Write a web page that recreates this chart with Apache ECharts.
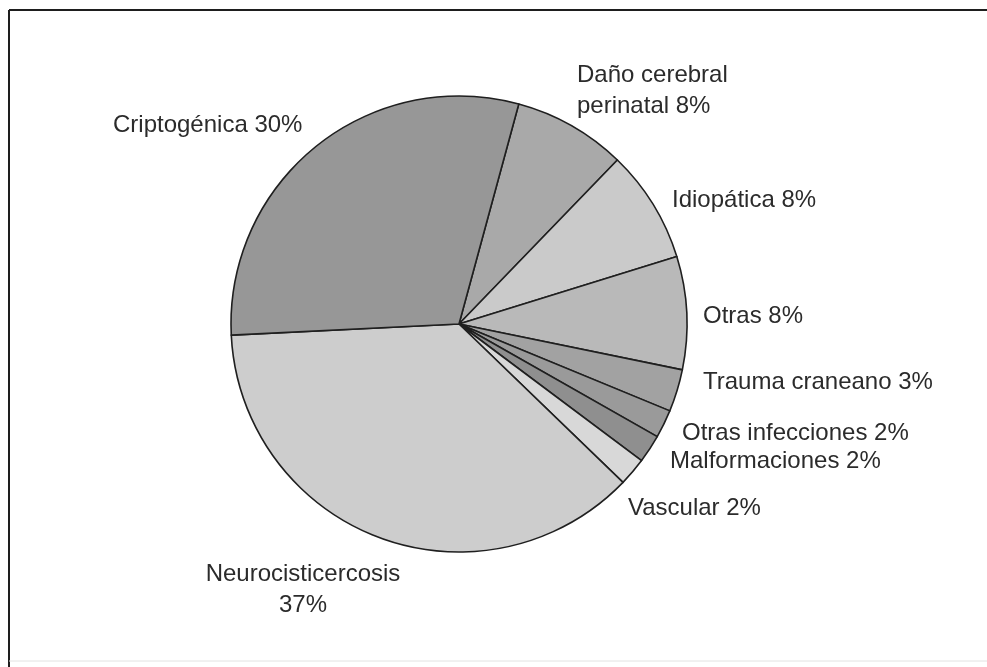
<!DOCTYPE html>
<html>
<head>
<meta charset="utf-8">
<script src="https://cdn.jsdelivr.net/npm/echarts@6/dist/echarts.min.js"></script>
<style>
html,body{margin:0;padding:0;background:#fff;}
#chart{width:987px;height:667px;}
</style>
</head>
<body>
<div id="chart"></div>
<script>
// Data (clockwise from the top boundary)
const categories = ['Daño cerebral perinatal','Idiopática','Otras','Trauma craneano','Otras infecciones','Malformaciones','Vascular','Neurocisticercosis','Criptogénica'];
const values = [8, 8, 8, 3, 2, 2, 2, 37, 30];
const labelTexts = ['Daño cerebral\nperinatal 8%','Idiopática 8%','Otras 8%','Trauma craneano 3%','Otras infecciones 2%','Malformaciones 2%','Vascular 2%','Neurocisticercosis\n37%','Criptogénica 30%'];

// Styling / layout (not data)
const sliceColors = ['#a9a9a9','#cacaca','#b9b9b9','#a2a2a2','#9a9a9a','#8f8f8f','#d8d8d8','#cdcdcd','#979797'];
const labelPos = [
  {x:577, y:91, align:'left'},
  {x:672, y:200, align:'left'},
  {x:703, y:316, align:'left'},
  {x:703, y:382, align:'left'},
  {x:682, y:433, align:'left'},
  {x:670, y:461, align:'left'},
  {x:628, y:508, align:'left'},
  {x:303, y:590, align:'center'},
  {x:113, y:125, align:'left'}
];

const chart = echarts.init(document.getElementById('chart'), null, {renderer:'canvas'});
chart.setOption({
  backgroundColor:'#ffffff',
  animation:false,
  graphic:[
    {type:'line', shape:{x1:9,y1:10,x2:987,y2:10}, style:{stroke:'#1e1e1e', lineWidth:2}},
    {type:'line', shape:{x1:9,y1:10,x2:9,y2:667}, style:{stroke:'#1e1e1e', lineWidth:2}},
    {type:'line', shape:{x1:9,y1:661,x2:987,y2:661}, style:{stroke:'#e2e2e2', lineWidth:1}}
  ],
  series:[{
    type:'pie',
    center:[459,324],
    radius:[0,228],
    startAngle:74.8,
    clockwise:true,
    avoidLabelOverlap:false,
    silent:true,
    itemStyle:{borderColor:'#1f1f1f', borderWidth:1.6},
    label:{
      show:true,
      position:'outside',
      formatter:function(p){ return labelTexts[p.dataIndex]; },
      fontFamily:'Liberation Sans, Arial, sans-serif',
      fontSize:24,
      lineHeight:31,
      color:'#2b2b2b'
    },
    labelLine:{show:false},
    labelLayout:function(params){
      const p = labelPos[params.dataIndex];
      return {x:p.x, y:p.y, align:p.align, verticalAlign:'middle'};
    },
    data: categories.map(function(c,i){
      return {name:c, value:values[i], itemStyle:{color:sliceColors[i]}};
    })
  }]
});
</script>
</body>
</html>
